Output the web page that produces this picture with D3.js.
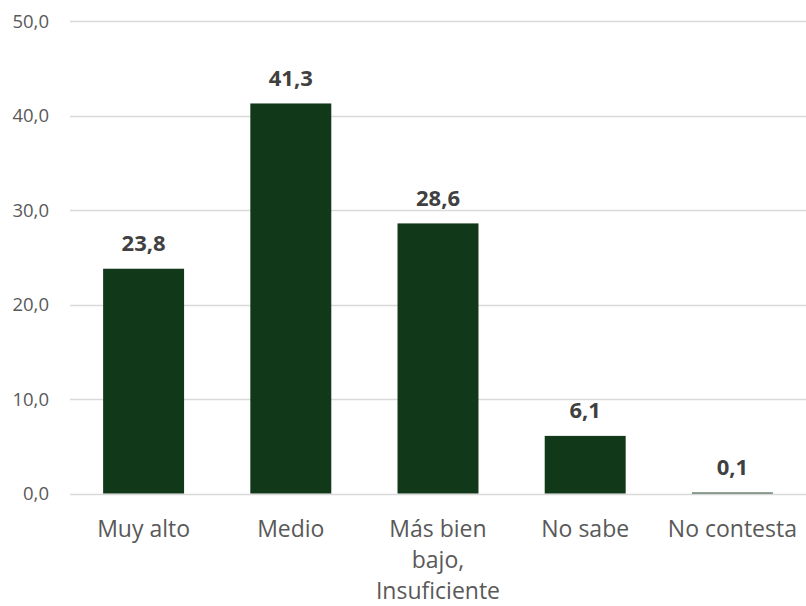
<!DOCTYPE html>
<html><head><meta charset="utf-8">
<script src="https://cdn.jsdelivr.net/npm/d3@7"></script>
<style>body{margin:0;background:#fff}svg{display:block}</style>
</head><body>
<script>
const categories = [["Muy alto"],["Medio"],["Más bien","bajo,","Insuficiente"],["No sabe"],["No contesta"]];
const values = [23.8, 41.3, 28.6, 6.1, 0.1];
const yTicks = [0,10,20,30,40,50];

const W=806,H=606;
const svg=d3.select("body").append("svg").attr("width",W).attr("height",H);
const x=d3.scaleBand().domain(d3.range(values.length)).range([70,806]).paddingInner(0.45).paddingOuter(0.225);
const y=d3.scaleLinear().domain([0,50]).range([493.5,21.3]);
const font="'Open Sans', sans-serif";
const fmt=v=>d3.format(".1f")(v).replace(".",",");

svg.append("g").selectAll("line").data(yTicks).join("line")
 .attr("x1",70).attr("x2",806).attr("y1",d=>Math.round(y(d))+0.5).attr("y2",d=>Math.round(y(d))+0.5)
 .attr("stroke","#d9d9d9").attr("stroke-width",1.5);
svg.append("g").selectAll("text").data(yTicks).join("text")
 .attr("x",49).attr("y",d=>y(d)).attr("dy","0.35em").attr("text-anchor","end")
 .attr("font-family",font).attr("font-size",18.5).attr("fill","#595959").text(fmt);

svg.append("g").selectAll("rect").data(values).join("rect")
 .attr("x",(d,i)=>x(i)).attr("width",x.bandwidth())
 .attr("y",d=>y(d)).attr("height",d=>y(0)-y(d)).attr("fill","#12381a");

svg.append("g").selectAll("text").data(values).join("text")
 .attr("x",(d,i)=>x(i)+x.bandwidth()/2).attr("y",d=>y(d)-17.5).attr("text-anchor","middle")
 .attr("font-family",font).attr("font-size",22).attr("font-weight","bold").attr("fill","#404040").text(fmt);

const cl=svg.append("g").selectAll("text").data(categories).join("text")
 .attr("x",(d,i)=>x(i)+x.bandwidth()/2).attr("y",537).attr("text-anchor","middle")
 .attr("font-family",font).attr("font-size",23).attr("fill","#595959");
cl.selectAll("tspan").data(d=>d).join("tspan")
 .attr("x",function(){return this.parentNode.getAttribute("x");})
 .attr("dy",(d,i)=>i?31:0).text(d=>d);
</script>
</body></html>
